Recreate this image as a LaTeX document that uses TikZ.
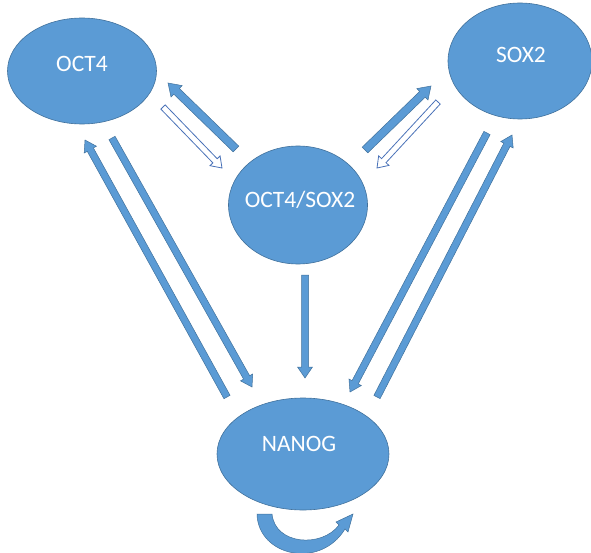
\documentclass[tikz,border=0pt]{standalone}
\usepackage{fontspec}
\setmainfont{Carlito}
\usetikzlibrary{calc,shapes.geometric}
\definecolor{nodeblue}{HTML}{5B9BD5}
\definecolor{edgeblue}{HTML}{41719C}
\definecolor{hollowblue}{HTML}{4A72B8}
\tikzset{
  blob/.style={ellipse, fill=nodeblue, draw=edgeblue, line width=0.6pt, inner sep=0pt},
  lbl/.style={text=white, font=\fontsize{23.5}{28}\selectfont, inner sep=0pt},
  solidarr/.style={fill=nodeblue, draw=edgeblue, line width=0.5pt, line join=miter},
  openarr/.style={fill=white, draw=hollowblue, line width=0.8pt, line join=miter},
}
% #1 style, #2 start, #3 tip, #4 half shaft width, #5 half head width, #6 head length
\newcommand\blockarr[6]{%
  \coordinate (ba-h) at ($(#3)!#6!(#2)$);
  \draw[#1] ($(#2)!#4!90:(#3)$) -- ($(ba-h)!#4!90:(#3)$) -- ($(ba-h)!#5!90:(#3)$)
    -- (#3) -- ($(ba-h)!#5!-90:(#3)$) -- ($(ba-h)!#4!-90:(#3)$)
    -- ($(#2)!#4!-90:(#3)$) -- cycle;}
\begin{document}
\begin{tikzpicture}[x=1pt,y=-1pt]
\useasboundingbox (0,0) rectangle (591,553);
% nodes
\node[blob, minimum width=149pt, minimum height=106pt] (oct4) at (82,71) {};
\node[blob, minimum width=144pt, minimum height=116pt] (sox2) at (520,61) {};
\node[blob, minimum width=139pt, minimum height=118pt] (o2s) at (298,205) {};
\node[blob, minimum width=172pt, minimum height=112pt] (nanog) at (303,454) {};
\node[lbl] (toct4) at (82,64) {OCT4};
\node[lbl] (tsox2) at (521,55) {SOX2};
\node[lbl] (to2s) at (300,200) {OCT4/SOX2};
\node[lbl] (tnanog) at (299,444) {NANOG};
% connector end points
\coordinate (a1s) at (236,149); \coordinate (a1e) at (168,83);
\coordinate (a2s) at (163,107); \coordinate (a2e) at (222,168);
\coordinate (a3s) at (365,150); \coordinate (a3e) at (431,86);
\coordinate (a4s) at (438,102); \coordinate (a4e) at (377,168);
\coordinate (a5s) at (112,138); \coordinate (a5e) at (252,387);
\coordinate (a6s) at (227,397); \coordinate (a6e) at (85,140);
\coordinate (a7s) at (305,275); \coordinate (a7e) at (305,378);
\coordinate (a8s) at (487,133); \coordinate (a8e) at (350,392);
\coordinate (a9s) at (377,397); \coordinate (a9e) at (512,135);
% connectors
\blockarr{solidarr}{a1s}{a1e}{4pt}{8pt}{12pt}
\blockarr{openarr}{a2s}{a2e}{3pt}{7pt}{10pt}
\blockarr{solidarr}{a3s}{a3e}{4pt}{8pt}{12pt}
\blockarr{openarr}{a4s}{a4e}{3pt}{7pt}{10pt}
\blockarr{solidarr}{a5s}{a5e}{3.5pt}{7pt}{11pt}
\blockarr{solidarr}{a6s}{a6e}{3.5pt}{7pt}{11pt}
\blockarr{solidarr}{a7s}{a7e}{3.5pt}{7.5pt}{11pt}
\blockarr{solidarr}{a8s}{a8e}{3.5pt}{7pt}{11pt}
\blockarr{solidarr}{a9s}{a9e}{3.5pt}{7pt}{11pt}
% self loop under NANOG
\draw[solidarr] (257,514) .. controls (258,556) and (320,570) .. (345,529)
  -- (348,532) -- (353,514) -- (336,522) -- (339,525)
  .. controls (322,548) and (275,545) .. (272,514) -- cycle;
\end{tikzpicture}
\end{document}
